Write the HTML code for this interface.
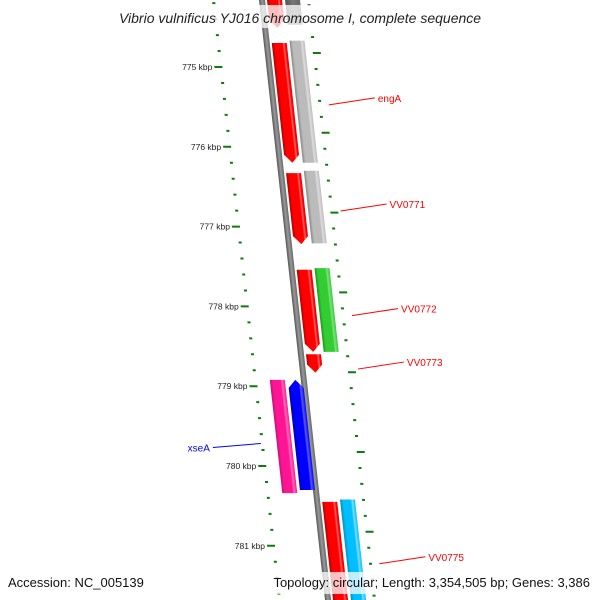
<!DOCTYPE html>
<html><head><meta charset="utf-8"><style>
html,body{margin:0;padding:0;background:#fff}
svg{display:block;font-family:"Liberation Sans",sans-serif}
</style></head><body>
<svg id="map" width="600" height="600" viewBox="0 0 600 600" xmlns="http://www.w3.org/2000/svg">
<defs>
<linearGradient id="g-red" x1="0" x2="1" y1="0" y2="0"><stop offset="0" stop-color="#b00000"/><stop offset="0.2" stop-color="#f00"/><stop offset="0.7" stop-color="#f00"/><stop offset="0.8" stop-color="#ff6a6a"/><stop offset="0.9" stop-color="#f00"/><stop offset="1" stop-color="#e00"/></linearGradient>
<linearGradient id="g-gray" x1="0" x2="1" y1="0" y2="0"><stop offset="0" stop-color="#888"/><stop offset="0.2" stop-color="#bbb"/><stop offset="0.7" stop-color="#bbb"/><stop offset="0.8" stop-color="#ddd"/><stop offset="1" stop-color="#bbb"/></linearGradient>
<linearGradient id="g-green" x1="0" x2="1" y1="0" y2="0"><stop offset="0" stop-color="#1a9a1a"/><stop offset="0.2" stop-color="#33cc33"/><stop offset="0.7" stop-color="#33cc33"/><stop offset="0.8" stop-color="#7de07d"/><stop offset="1" stop-color="#33cc33"/></linearGradient>
<linearGradient id="g-magenta" x1="0" x2="1" y1="0" y2="0"><stop offset="0" stop-color="#c0107a"/><stop offset="0.2" stop-color="#ff1493"/><stop offset="0.7" stop-color="#ff1493"/><stop offset="0.8" stop-color="#ff6ab8"/><stop offset="1" stop-color="#ff1493"/></linearGradient>
<linearGradient id="g-blue" x1="0" x2="1" y1="0" y2="0"><stop offset="0" stop-color="#0000b0"/><stop offset="0.2" stop-color="#00f"/><stop offset="0.7" stop-color="#00f"/><stop offset="0.8" stop-color="#5a5aff"/><stop offset="1" stop-color="#00f"/></linearGradient>
<linearGradient id="g-cyan" x1="0" x2="1" y1="0" y2="0"><stop offset="0" stop-color="#0090c0"/><stop offset="0.2" stop-color="#00bfff"/><stop offset="0.7" stop-color="#00bfff"/><stop offset="0.8" stop-color="#7fdcff"/><stop offset="1" stop-color="#00bfff"/></linearGradient>
<linearGradient id="g-darkgray" x1="0" x2="1" y1="0" y2="0"><stop offset="0" stop-color="#555"/><stop offset="0.5" stop-color="#777"/><stop offset="1" stop-color="#666"/></linearGradient>
<linearGradient id="g-bb" x1="0" x2="1" y1="0" y2="0"><stop offset="0" stop-color="#555"/><stop offset="0.5" stop-color="#999"/><stop offset="1" stop-color="#666"/></linearGradient>
</defs>
<g id="skew" transform="skewX(6.28)">
<rect x="259" y="-10" width="6" height="620" fill="url(#g-bb)"/>
</g>
<g id="labels"></g>
<rect x="100" y="5" width="400" height="23" fill="#fff" opacity="0.75"/>
<text x="300" y="23" text-anchor="middle" font-size="14" font-style="italic" fill="#222">Vibrio vulnificus YJ016 chromosome I, complete sequence</text>
<rect x="0" y="572" width="600" height="22" fill="#fff" opacity="0.75"/>
<text x="8" y="587" font-size="13" fill="#111">Accession: NC_005139</text>
<text x="590" y="587" font-size="13" text-anchor="end" fill="#111">Topology: circular; Length: 3,354,505 bp; Genes: 3,386</text>
</svg>
<script>
const tickKbp = [775, 776, 777, 778, 779, 780, 781];
const geneStart = [773.9, 773.9, 774.70, 774.67, 776.33, 776.30, 777.54, 777.52, 778.60, 778.92, 778.92, 780.45, 780.42];
const geneEnd   = [774.51, 774.47, 776.20, 776.20, 777.22, 777.21, 778.57, 778.57, 778.83, 780.34, 780.30, 781.8, 781.8];
const geneStrand = [1, 1, 1, 1, 1, 1, 1, 1, 1, 0, -1, 1, 1];
const geneColumn = [0, 1, 0, 1, 0, 1, 0, 1, 0, 1, 0, 0, 1];
const geneColor = ["red", "darkgray", "red", "gray", "red", "gray", "red", "green", "red", "magenta", "blue", "red", "cyan"];
const labelText = ["engA", "VV0771", "VV0772", "VV0773", "xseA", "VV0775"];
const labelKbp = [775.40, 776.73, 778.04, 778.71, 779.73, 781.15];
const labelSide = [1, 1, 1, 1, -1, 1];

const NS = "http://www.w3.org/2000/svg";
const SK = 0.110;
const Y0 = 67, PX = 79.8;
function yOf(k){ return Y0 + (k - 775) * PX; }
const skew = document.getElementById('skew');
const labels = document.getElementById('labels');
function mk(tag, attrs, parent){ const e = document.createElementNS(NS, tag); for (const k in attrs) e.setAttribute(k, attrs[k]); parent.appendChild(e); return e; }

// ticks
for (let k = 774.0; k <= 782.01; k += 0.2) {
  const kk = Math.round(k * 10) / 10;
  const major = Math.abs(kk - Math.round(kk)) < 0.01;
  const y = yOf(kk);
  const t = mk('rect', { x: major ? 207 : 212, y: y - 1, width: major ? 8 : 3, height: 2, fill: '#0a7d0a' }, skew);
  
  
  const yo = y - 14;
  const o = mk('rect', { x: 307, y: yo - 1, width: major ? 8 : 3, height: 2, fill: '#0a7d0a' }, skew);
  
  
}
tickKbp.forEach(k => {
  const y = yOf(k);
  const x = 205 + SK * y;
  const t = mk('text', { x: x, y: y + 3, 'font-size': 8.5, 'text-anchor': 'end', fill: '#222' }, labels);
  t.textContent = k + ' kbp';
  
  
});

// genes
const colX = { '1_0': 267, '1_1': 285, '-1_0': 246, '-1_1': 228, '0_1': 228, '0_0': 246 };
const W = 15;
for (let i = 0; i < geneStart.length; i++) {
  const x = colX[geneStrand[i] + '_' + geneColumn[i]];
  const y1 = yOf(geneStart[i]), y2 = yOf(geneEnd[i]);
  const a = 8;
  let d;
  if (geneStrand[i] === 1 && geneColor[i] === 'red') {
    d = `M${x},${y1} L${x+W},${y1} L${x+W},${y2-a} L${x+W/2},${y2} L${x},${y2-a} Z`;
  } else if (geneStrand[i] === -1) {
    d = `M${x+W/2},${y1} L${x+W},${y1+a} L${x+W},${y2} L${x},${y2} L${x},${y1+a} Z`;
  } else {
    d = `M${x},${y1} L${x+W},${y1} L${x+W},${y2} L${x},${y2} Z`;
  }
  const p = mk('path', { d: d, fill: 'url(#g-' + geneColor[i] + ')' }, skew);
  
  
}

// labels
labelText.forEach((t, i) => {
  const y = yOf(labelKbp[i]);
  if (labelSide[i] === 1) {
    const x0 = 318 + SK * y;
    const l = mk('line', { x1: x0, y1: y + 6, x2: x0 + 46, y2: y - 1, stroke: '#f00', 'stroke-width': 1 }, labels);
    
    
    const tx = mk('text', { x: x0 + 49, y: y + 3, 'font-size': 10, fill: '#f00' }, labels);
    tx.textContent = t;
    
    
  } else {
    const x1 = 212 + SK * y;
    const l = mk('line', { x1: x1 - 48, y1: y + 3, x2: x1, y2: y - 1, stroke: '#00f', 'stroke-width': 1 }, labels);
    
    
    const tx = mk('text', { x: x1 - 51, y: y + 7, 'font-size': 10, fill: '#00f', 'text-anchor': 'end' }, labels);
    tx.textContent = t;
    
    
  }
});
</script>
</body></html>
